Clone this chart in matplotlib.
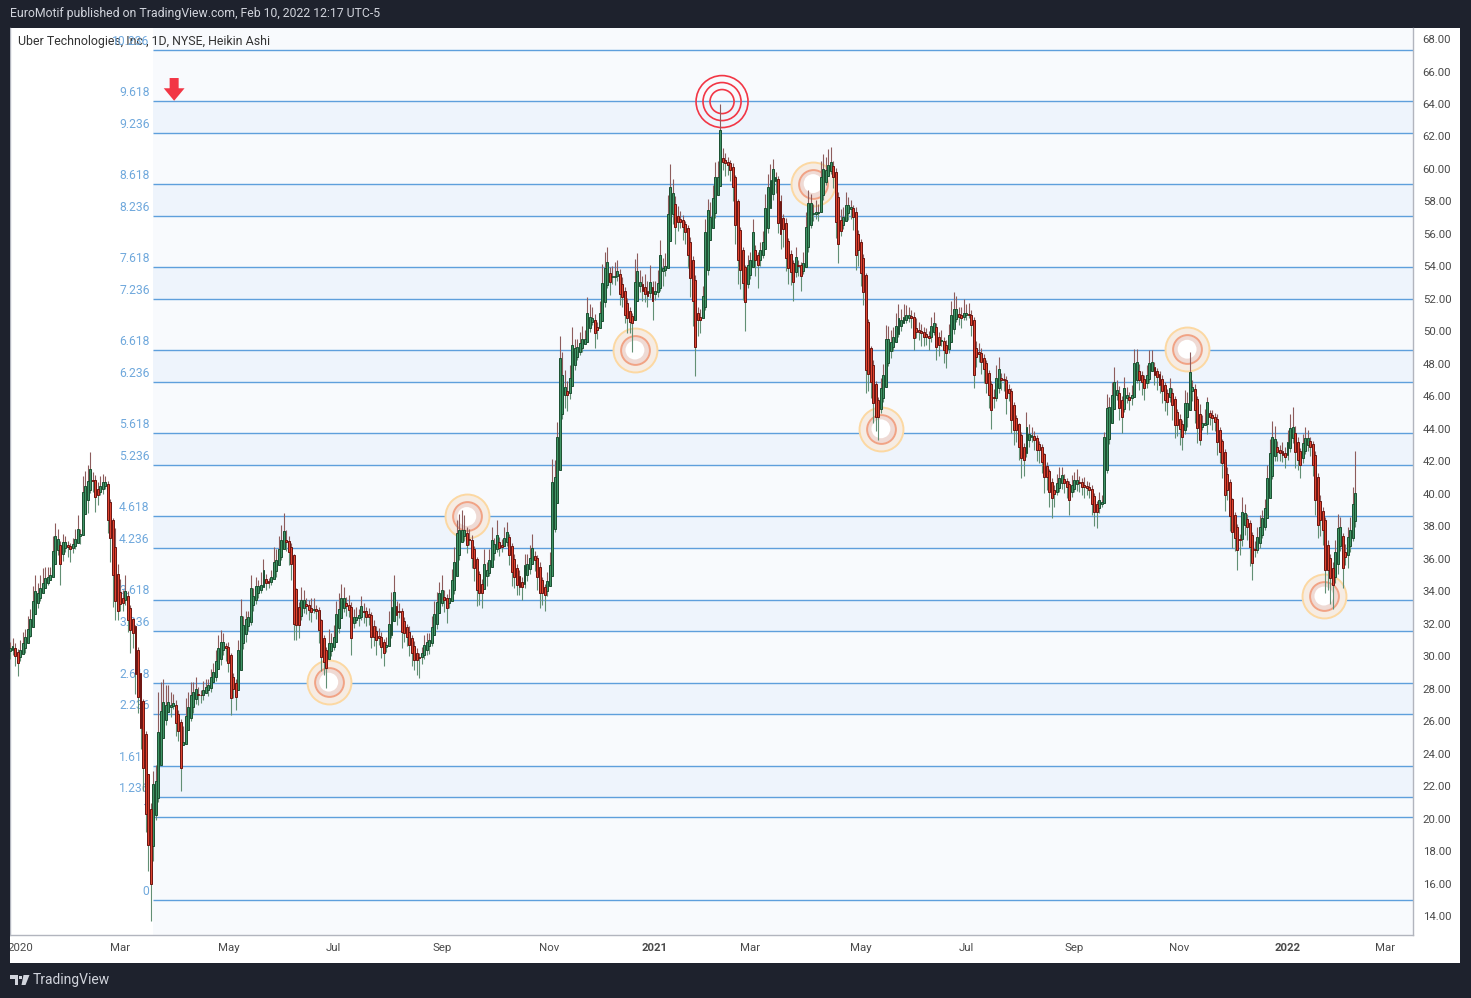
import numpy as np
import matplotlib.pyplot as plt
from matplotlib.patches import Rectangle, Polygon

plt.rcParams['font.family'] = ['Roboto', 'DejaVu Sans']

W, H = 1471, 998

# Heikin Ashi close, one value per trading day, 26 Dec 2019 (index -4) .. 10 Feb 2022 (index 532)
ha_close = [
    30.5, 30.6, 30.0, 29.6, 30.4, 30.8, 31.2, 31.7, 32.3, 33.4,
    34.0, 33.9, 34.2, 34.5, 34.8, 34.9, 35.0, 36.5, 37.4, 37.2,
    35.7, 37.0, 37.0, 36.7, 36.6, 36.9, 37.2, 37.8, 37.5, 40.1,
    40.5, 40.8, 41.5, 40.8, 39.8, 39.9, 40.5, 40.7, 40.7, 38.4,
    37.3, 35.0, 33.4, 32.8, 33.2, 33.3, 34.0, 32.2, 31.6, 31.4,
    28.9, 27.5, 25.6, 23.1, 20.3, 18.4, 16.0, 22.1, 22.3, 25.3,
    26.6, 27.2, 27.0, 27.2, 27.0, 27.1, 25.9, 25.4, 23.1, 24.7,
    26.3, 26.9, 27.6, 27.8, 28.0, 27.6, 27.6, 27.9, 28.1, 28.2,
    28.7, 29.0, 29.7, 30.5, 30.9, 30.9, 30.5, 29.6, 27.4, 28.0,
    27.5, 30.4, 32.5, 31.9, 32.3, 32.4, 34.2, 33.7, 34.3, 34.3,
    34.4, 35.3, 34.5, 34.5, 34.9, 35.8, 35.9, 36.6, 37.15, 37.7,   # 2020-05/06
    37.0, 36.4, 35.7, 32.0, 31.9, 31.9, 33.45, 33.45, 33.1, 32.84,
    32.7, 32.9, 32.8, 31.6, 29.97, 29.66, 29.25, 30.8, 30.8, 31.2,
    32.6, 32.9, 33.56, 33.56, 33.1, 32.84, 31.1, 32.43, 32.43, 32.53,
    33.1, 32.74, 32.43, 32.43, 31.2, 31.2, 31.0, 31.1, 30.58, 30.2,
    30.7, 32.0, 33.05, 33.97, 32.53, 32.74, 31.5, 31.4, 31.2, 30.7,
    30.17, 29.76, 29.76, 29.86, 30.17, 30.7, 30.9, 31.0, 31.8, 32.6,
    33.35, 33.87, 34.07, 33.45, 32.94, 33.56, 34.69, 35.82, 37.56, 37.77,
    37.77, 37.77, 36.84, 37.15, 36.02, 35.4, 34.07, 33.87, 33.87, 35.7,
    35.3, 35.9, 37.15, 36.9, 37.46, 36.64, 36.7, 37.25, 37.66, 36.23,
    35.2, 34.9, 34.38, 34.28, 34.24, 35.6, 35.7, 36.02, 36.64, 35.92,  # 2020-10
    34.9, 33.87, 33.87, 33.76, 34.6, 35.6, 40.74, 41.05, 43.5, 48.34,
    47.3, 46.6, 46.08, 47.1, 49.16, 48.95, 49.05, 49.26, 49.5, 49.5,
    51.1, 50.9, 50.8, 49.9, 50.1, 51.1, 52.96, 53.9, 54.3, 53.06,
    53.4, 53.4, 53.7, 52.3, 52.1, 51.0, 50.8, 50.6, 50.5, 53.06,
    53.7, 53.06, 52.5, 52.3, 52.2, 53.06, 51.9, 52.5, 52.96, 54.7,
    53.9, 54.0, 57.2, 58.9, 58.5, 56.4, 56.75, 56.75, 56.4, 56.1,
    54.7, 53.3, 51.9, 49.05, 50.7, 50.7, 52.2, 56.1, 57.47, 57.06,
    58.2, 59.5, 59.5, 62.4, 60.45, 60.34, 60.24, 59.93, 58.9, 56.55,
    54.4, 53.8, 52.95, 51.8, 54.1, 54.4, 56.1, 54.4, 54.1, 55.0,
    55.5, 57.57, 58.9, 59.3, 60.0, 59.5, 56.65, 56.0, 56.3, 54.5,      # 2021-03/04
    53.9, 53.67, 53.06, 54.6, 54.0, 53.4, 54.2, 56.45, 57.88, 57.88,
    57.26, 57.37, 57.37, 59.5, 60.0, 59.93, 60.24, 60.45, 59.5, 56.75,
    55.4, 56.2, 57.06, 57.78, 57.78, 57.67, 57.06, 54.7, 55.0, 53.57,
    52.44, 47.62, 47.4, 46.9, 45.56, 44.74, 44.74, 46.5, 47.3, 49.5,
    49.5, 49.36, 49.67, 50.3, 50.8, 50.7, 50.9, 51.0, 51.0, 50.8,
    49.57, 49.98, 49.98, 49.9, 49.67, 49.67, 49.57, 50.3, 50.5, 49.05,
    49.16, 49.47, 48.85, 48.64, 49.77, 51.0, 51.4, 51.4, 50.9, 50.8,
    51.1, 51.1, 51.0, 50.4, 47.3, 48.4, 48.6, 48.1, 47.7, 46.8,
    46.08, 45.16, 45.9, 47.1, 47.7, 47.0, 47.0, 45.9, 46.2, 44.54,
    43.9, 43.9, 42.9, 42.2, 42.07, 44.13, 43.7, 43.6, 43.3, 42.7,      # 2021-08
    42.7, 41.97, 41.05, 41.05, 40.1, 39.72, 40.0, 40.64, 40.95, 41.15,
    40.64, 40.43, 39.6, 40.54, 40.84, 40.84, 40.68, 40.43, 40.43, 40.33,
    40.23, 39.4, 38.9, 38.9, 39.6, 39.5, 43.5, 45.26, 45.36, 46.08,
    46.9, 46.4, 45.26, 44.74, 46.5, 46.08, 45.77, 46.08, 48.03, 48.13,
    47.0, 46.9, 46.5, 47.3, 48.03, 48.13, 47.3, 47.2, 46.7, 46.3,
    45.77, 45.67, 46.5, 45.46, 44.23, 44.23, 44.0, 43.5, 45.56, 45.56,
    47.5, 46.6, 45.15, 44.03, 43.3, 44.33, 44.33, 45.67, 44.74, 44.64,
    44.44, 43.2, 42.59, 41.87, 39.92, 40.23, 38.6, 37.66, 37.25, 36.53,
    37.15, 38.9, 38.8, 37.97, 36.74, 35.71, 36.53, 37.35, 37.97, 38.48,
    39.1, 40.95, 42.5, 43.5, 43.4, 42.59, 42.49, 42.38, 42.28, 43.2,   # 2021-12
    44.03, 44.13, 42.59, 42.08, 41.77, 43.1, 43.41, 43.41, 42.9, 41.77,
    39.6, 38.07, 38.38, 37.76, 35.3, 35.3, 34.79, 34.38, 36.43, 37.87,
    37.97, 35.4, 36.12, 37.35, 37.76, 39.4, 40.02,
]
ha_open_first = 30.3

# wick length above / below the body, in tenths of a dollar
wick_up = [
    4, 5, 3, 2, 6, 7, 5, 8, 6, 9,  10, 6, 8, 9, 7, 6, 5, 9, 8, 6,
    2, 5, 4, 3, 2, 4, 6, 9, 3, 10,  9, 10, 11, 5, 3, 4, 6, 5, 4, 2,
    2, 1, 12, 6, 8, 5, 10, 3, 2, 1,  1, 2, 0, 1, 2, 0, 4, 8, 10, 25,
    18, 14, 12, 10, 8, 6, 3, 2, 2, 10,  11, 9, 8, 6, 7, 4, 3, 6, 5, 4,
    5, 6, 7, 8, 7, 5, 2, 3, 1, 2,  2, 6, 10, 6, 5, 4, 8, 5, 6, 4,
    8, 7, 3, 2, 4, 9, 7, 8, 9, 11,  6, 3, 2, 1, 1, 3, 8, 6, 4, 3,
    6, 7, 3, 2, 1, 2, 2, 9, 6, 7,  8, 10, 9, 7, 4, 6, 3, 5, 6, 4,
    6, 5, 3, 4, 2, 4, 3, 5, 3, 2,  5, 8, 9, 10, 3, 5, 2, 3, 2, 4,
    2, 3, 3, 2, 4, 6, 5, 4, 7, 8,  6, 7, 9, 4, 3, 6, 7, 9, 8, 10,
    12, 9, 4, 6, 3, 2, 1, 2, 3, 9,  5, 7, 8, 4, 9, 3, 4, 7, 6, 2,
    2, 3, 2, 4, 3, 7, 6, 8, 9, 3,  2, 3, 2, 2, 6, 8, 14, 10, 9, 14,
    14, 10, 6, 8, 11, 6, 5, 7, 8, 6,  10, 8, 7, 4, 3, 8, 12, 10, 9, 4,
    6, 9, 7, 3, 4, 2, 3, 2, 2, 14,  11, 7, 5, 8, 6, 10, 4, 6, 8, 9,
    6, 8, 12, 14, 9, 5, 6, 5, 3, 2,  2, 3, 2, 3, 4, 5, 6, 8, 7, 9,
    8, 9, 10, 16, 6, 4, 3, 2, 2, 1,  1, 2, 2, 1, 6, 5, 8, 3, 2, 5,
    7, 9, 8, 10, 6, 3, 2, 4, 2, 3,  2, 3, 2, 6, 3, 2, 7, 9, 8, 6,
    6, 7, 5, 10, 9, 8, 10, 9, 3, 2,  3, 7, 6, 8, 5, 4, 2, 3, 2, 2,
    2, 1, 2, 1, 3, 2, 2, 6, 7, 9,  8, 7, 6, 8, 9, 7, 8, 6, 5, 4,
    3, 6, 5, 4, 3, 4, 3, 6, 7, 3,  3, 6, 2, 3, 7, 9, 10, 8, 4, 5,
    9, 6, 7, 3, 2, 4, 6, 3, 2, 2,  2, 2, 5, 8, 7, 3, 4, 2, 3, 2,
    2, 2, 1, 2, 2, 9, 6, 5, 3, 2,  2, 2, 1, 2, 1, 2, 3, 6, 7, 5,
    3, 2, 2, 6, 5, 7, 4, 3, 5, 3,  3, 2, 2, 2, 5, 4, 3, 9, 6, 8,
    9, 6, 4, 3, 7, 5, 3, 6, 9, 8,  4, 3, 2, 6, 8, 7, 3, 2, 2, 3,
    2, 2, 6, 3, 2, 2, 3, 2, 8, 7,  12, 4, 3, 2, 6, 5, 9, 3, 2, 3,
    2, 3, 2, 1, 2, 4, 2, 1, 2, 2,  3, 9, 6, 3, 2, 2, 5, 6, 7, 5,
    6, 8, 9, 10, 8, 4, 3, 6, 4, 7,  9, 12, 4, 3, 2, 6, 7, 5, 3, 2,
    2, 3, 4, 2, 2, 3, 2, 4, 7, 9,  6, 2, 5, 6, 8, 10, 26,
]
wick_dn = [
    5, 3, 6, 8, 2, 0, 3, 0, 1, 0,  0, 3, 2, 0, 0, 1, 0, 0, 0, 3,
    13, 4, 2, 6, 8, 3, 2, 0, 5, 0,  0, 8, 2, 7, 9, 6, 2, 3, 2, 8,
    15, 20, 12, 6, 4, 5, 3, 7, 14, 9,  12, 10, 13, 14, 11, 16, 23, 9, 3, 2,
    0, 0, 3, 0, 6, 2, 8, 6, 14, 0,  0, 0, 2, 4, 3, 6, 5, 3, 0, 4,
    3, 0, 2, 0, 4, 3, 8, 6, 10, 6,  8, 0, 0, 4, 5, 3, 2, 4, 2, 3,
    2, 0, 4, 3, 2, 0, 4, 0, 2, 0,  5, 8, 10, 10, 9, 8, 2, 3, 5, 6,
    6, 2, 5, 8, 9, 8, 12, 0, 3, 2,  0, 3, 0, 2, 6, 4, 10, 3, 2, 5,
    2, 7, 6, 5, 7, 6, 9, 4, 7, 8,  3, 0, 2, 0, 6, 4, 10, 5, 6, 7,
    8, 6, 9, 12, 4, 2, 3, 5, 2, 0,  3, 0, 2, 7, 9, 3, 0, 2, 0, 3,
    0, 3, 5, 3, 6, 8, 10, 7, 9, 0,  6, 2, 0, 4, 2, 5, 3, 0, 2, 6,
    9, 7, 6, 5, 8, 2, 4, 3, 0, 7,  8, 9, 7, 10, 3, 0, 0, 2, 0, 0,
    3, 8, 10, 4, 0, 3, 2, 2, 3, 0,  0, 3, 2, 9, 6, 0, 0, 3, 2, 8,
    4, 5, 3, 7, 6, 5, 9, 7, 18, 0,  0, 4, 6, 5, 7, 3, 12, 4, 3, 2,
    9, 4, 0, 0, 6, 10, 6, 4, 8, 7,  8, 12, 16, 18, 10, 8, 0, 2, 3, 0,
    0, 3, 0, 0, 5, 8, 6, 7, 9, 12,  15, 12, 10, 18, 2, 3, 0, 10, 14, 4,
    2, 0, 3, 0, 4, 7, 6, 9, 11, 8,  10, 8, 12, 3, 6, 9, 2, 0, 3, 2,
    4, 3, 5, 0, 3, 2, 0, 2, 7, 10,  12, 3, 2, 0, 4, 6, 8, 9, 10, 8,
    8, 14, 11, 10, 12, 9, 14, 3, 2, 0,  2, 4, 3, 0, 2, 3, 0, 2, 3, 6,
    7, 4, 5, 8, 6, 5, 7, 3, 2, 8,  7, 3, 8, 9, 2, 0, 3, 2, 5, 6,
    2, 3, 2, 7, 8, 6, 5, 7, 9, 6,  8, 12, 6, 2, 3, 6, 7, 10, 5, 8,
    9, 7, 8, 12, 10, 2, 4, 3, 6, 7,  8, 7, 10, 8, 9, 12, 8, 2, 3, 4,
    6, 7, 9, 3, 2, 4, 6, 5, 7, 4,  5, 7, 9, 10, 3, 2, 0, 2, 3, 0,
    0, 3, 7, 10, 2, 3, 6, 4, 0, 2,  6, 8, 7, 3, 2, 0, 6, 8, 5, 7,
    7, 8, 3, 9, 8, 7, 10, 8, 2, 6,  0, 6, 8, 9, 3, 2, 0, 6, 5, 7,
    6, 8, 7, 9, 10, 6, 9, 10, 8, 12,  9, 4, 6, 8, 12, 10, 4, 2, 3, 2,
    2, 0, 0, 2, 3, 6, 5, 4, 7, 3,  2, 3, 10, 6, 8, 3, 2, 4, 6, 7,
    9, 8, 10, 9, 14, 12, 16, 15, 4, 6,  3, 12, 5, 8, 4, 2, 4,
]

# fibonacci extension drawn from the March 2020 low
fib_base = 14.98
fib_unit = 5.115
fib_levels = [0, 1, 1.236, 1.618, 2.236, 2.618, 3.236, 3.618, 4.236, 4.618, 5.236,
              5.618, 6.236, 6.618, 7.236, 7.618, 8.236, 8.618, 9.236, 9.618, 10.236]
fib_start = 53

month_idx = [0, 40, 83, 125, 168, 211, 253, 291, 335, 377, 420, 462, 505, 544]
month_lbl = ['2020', 'Mar', 'May', 'Jul', 'Sep', 'Nov', '2021', 'Mar', 'May', 'Jul',
             'Sep', 'Nov', '2022', 'Mar']

# marked swing points
ring_x = [123, 178, 245, 316, 343, 465, 519.5]
ring_y = [28.4, 38.6, 48.85, 59.1, 44.0, 48.9, 33.7]
target_x, target_y = 279.7, 64.15
arrow_x = 61.4

n = len(ha_close)
assert len(wick_up) == n and len(wick_dn) == n

c = np.array(ha_close)
o = np.empty(n)
o[0] = ha_open_first
for i in range(1, n):
    o[i] = (o[i - 1] + c[i - 1]) / 2
top = np.maximum(o, c)
bot = np.minimum(o, c)
hi = top + np.array(wick_up) / 10
lo = bot - np.array(wick_dn) / 10
x = np.arange(n) - 4
up = c >= o

dark = '#1e222d'
fig = plt.figure(figsize=(W / 100, H / 100), dpi=100, facecolor=dark)


def fx(px):
    return px / W


def fy(py):
    return 1 - py / H


# white panel (plot + both axes)
fig.add_artist(Rectangle((fx(10), fy(963)), fx(1450), 935 / H, transform=fig.transFigure,
                         facecolor='white', edgecolor='none', zorder=-1))

ax = fig.add_axes([fx(10), fy(935), 1403 / W, 907 / H])
ax.set_facecolor('white')
xmin, xmax = -4.0, 555.0
ymin, ymax = 12.83, 68.68
ax.set_xlim(xmin, xmax)
ax.set_ylim(ymin, ymax)

# fib background, bands, lines, labels
ax.fill_between([fib_start, xmax], ymin, ymax, color='#f8fafd', lw=0, zorder=0.5)
fib_price = [fib_base + f * fib_unit for f in fib_levels]
for k in range(2, len(fib_levels) - 1, 2):
    ax.fill_between([fib_start, xmax], fib_price[k], fib_price[k + 1],
                    color='#eef4fc', lw=0, zorder=0.6)
ax.hlines(fib_price, fib_start, xmax, color='#5e9fdc', lw=1, zorder=1)
for f, p in zip(fib_levels, fib_price):
    lab = str(f) if f in (0, 1) else f'{f:.3f}'
    ax.annotate(lab, xy=(fib_start, p), xytext=(-2.5, 1.5), textcoords='offset points',
                ha='right', va='bottom', color='#6fa8dc', fontsize=8.7, zorder=1.2)

ax.text(8 / 1403, 1 - 13 / 907, 'Uber Technologies, Inc., 1D, NYSE, Heikin Ashi',
        transform=ax.transAxes, ha='left', va='center', color='#333333', fontsize=8.9,
        zorder=1.1)

# swing circles (behind the candles)
ax.scatter(ring_x, ring_y, s=1000, facecolor='#f6ece3', edgecolor='#fcd8a2', lw=1.4, zorder=2)
ax.scatter(ring_x, ring_y, s=430, facecolor='#efdad4', edgecolor='#f1a385', lw=1.4, zorder=2.1)
ax.scatter(ring_x, ring_y, s=185, facecolor='white', edgecolor='none', zorder=2.2)
for s in (1400, 750, 300):
    ax.scatter([target_x], [target_y], s=s, facecolor='none', edgecolor='#f23645',
               lw=1.2, zorder=2.3)

# candles
ax.vlines(x, top, hi, color='#8d5c5c', lw=0.8, zorder=3)
ax.vlines(x, lo, bot, color='#628f74', lw=0.8, zorder=3)
ax.bar(x[up], (top - bot)[up], bottom=bot[up], width=0.78, color='#409466',
       edgecolor='#1b4f30', lw=0.7, zorder=4)
ax.bar(x[~up], (top - bot)[~up], bottom=bot[~up], width=0.78, color='#de4430',
       edgecolor='#6b1410', lw=0.7, zorder=4)

# red arrow marker
ax.annotate('', xy=(arrow_x, 64.2), xytext=(arrow_x, 65.6),
            arrowprops=dict(arrowstyle='simple,head_length=0.9,head_width=1.5,tail_width=0.65',
                            fc='#f23645', ec='none', mutation_scale=10, shrinkA=0, shrinkB=0),
            zorder=5)

# axes
for side in ('left', 'bottom', 'right'):
    ax.spines[side].set_color('#b2b5be')
    ax.spines[side].set_linewidth(1)
ax.spines['top'].set_visible(False)
ax.yaxis.tick_right()
ax.set_yticks(range(14, 69, 2))
ax.set_yticklabels([f'{v:.2f}' for v in range(14, 69, 2)])
ax.tick_params(axis='y', length=0, pad=7, labelsize=8.2, labelcolor='#4a4a4a')
ax.set_xticks(month_idx)
ax.set_xticklabels(month_lbl)
ax.tick_params(axis='x', length=0, pad=6, labelsize=8.2, labelcolor='#4a4a4a')
for t in ax.get_xticklabels():
    if t.get_text() in ('2021', '2022'):
        t.set_fontweight('bold')

# dark frame piece over the panel edge
fig.add_artist(Rectangle((0, fy(998)), fx(10), 1, transform=fig.transFigure,
                         facecolor=dark, edgecolor='none', zorder=10))

# header and footer
fig.text(fx(10), fy(14), 'EuroMotif published on TradingView.com, Feb 10, 2022 12:17 UTC-5',
         ha='left', va='center', color='#d1d4dc', fontsize=8.8)
logo_col = '#d1d4dc'
fig.add_artist(Polygon([(fx(10), fy(975)), (fx(18), fy(975)), (fx(18), fy(985)),
                        (fx(14.5), fy(985)), (fx(14.5), fy(978.5)), (fx(10), fy(978.5))],
                       closed=True, transform=fig.transFigure, fc=logo_col, ec='none'))
fig.add_artist(Polygon([(fx(19), fy(975.5)), (fx(22), fy(975.5)), (fx(22), fy(978.5)),
                        (fx(19), fy(978.5))],
                       closed=True, transform=fig.transFigure, fc=logo_col, ec='none'))
fig.add_artist(Polygon([(fx(23.5), fy(975)), (fx(29.5), fy(975)), (fx(25.5), fy(985)),
                        (fx(21.5), fy(985))],
                       closed=True, transform=fig.transFigure, fc=logo_col, ec='none'))
fig.text(fx(33), fy(980), 'TradingView', ha='left', va='center', color='#d1d4dc',
         fontsize=10)

fig.savefig('out.png', dpi=100, facecolor=dark)
